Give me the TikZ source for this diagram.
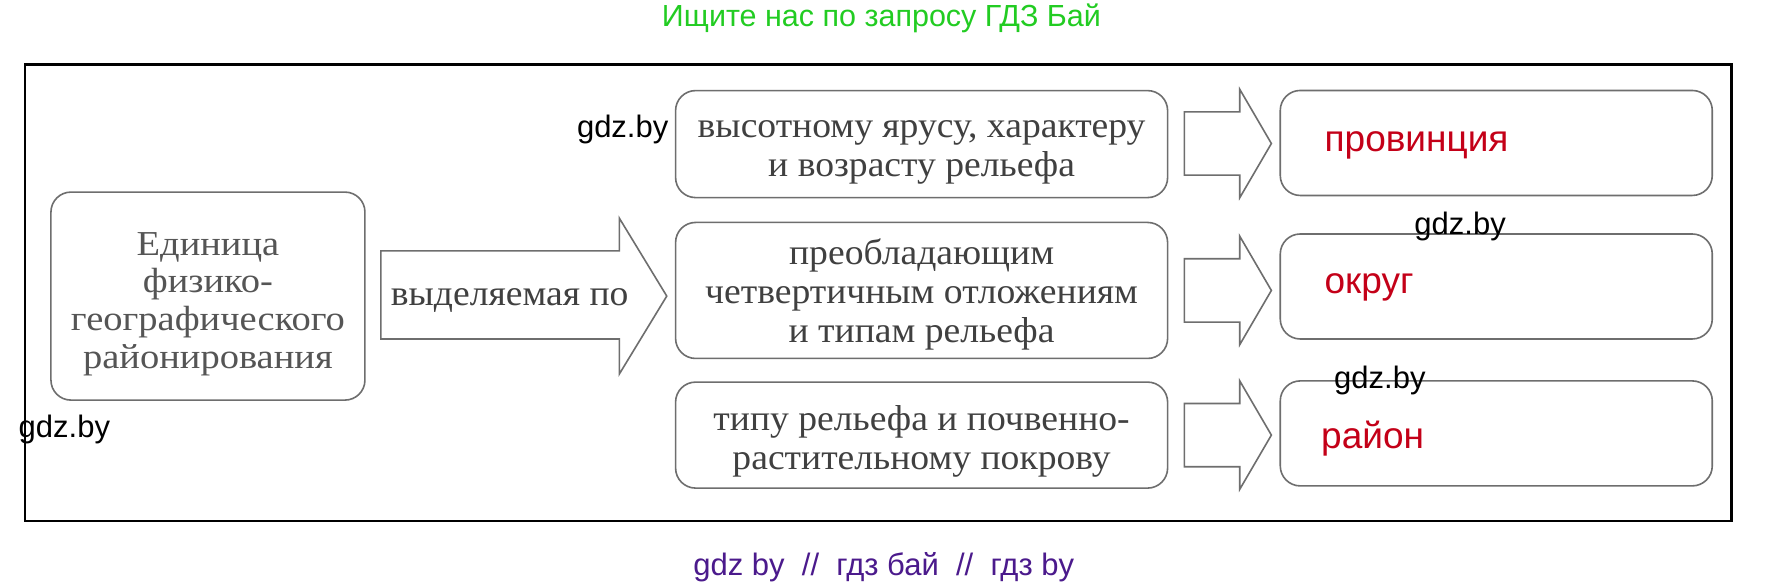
\documentclass[tikz,border=0pt]{standalone}
\usepackage{fontspec}
\setmainfont{Liberation Serif}[FakeStretch=1.045]
\newfontfamily\leftserif[FakeStretch=1.1]{Liberation Serif}
\newfontfamily\wsans{Liberation Sans}
\definecolor{boxline}{HTML}{6E6E6E}
\definecolor{boxtext}{HTML}{404040}
\definecolor{lefttext}{HTML}{555555}
\definecolor{titlegreen}{HTML}{22CC22}
\definecolor{wmpurple}{HTML}{4B1A8C}
\definecolor{answerred}{HTML}{C40018}
\tikzset{
  x=1.1301pt, y=-1.1301pt,
  roundbox/.style={draw=boxline, line width=1.6pt, rounded corners=20pt, inner sep=0pt},
  blockarrow/.style={draw=boxline, line width=1.6pt, fill=white, line join=miter},
  boxfont/.style={font=\fontsize{36}{39}\selectfont, text=boxtext, align=center, inner sep=0pt},
  answer/.style={font=\wsans\fontsize{37}{40}\selectfont, text=answerred, anchor=west},
  wmark/.style={font=\wsans\fontsize{31}{34}\selectfont, text=black},
}
\begin{document}
\begin{tikzpicture}
\useasboundingbox (0,0) rectangle (1568,519.4);
\fill[white] (0,0) rectangle (1568,519.4);
% title
\node[font=\wsans\fontsize{30.5}{34}\selectfont, text=titlegreen] (title) at (780,16) {Ищите нас по запросу ГДЗ Бай};
% frame
\draw[line width=2.6pt] (22,57) rectangle (1532,461);
% left box
\node[roundbox, minimum width=314pt, minimum height=208pt] (unit) at (184,262) {};
\node[font=\leftserif\fontsize{35}{37.7}\selectfont, text=lefttext, align=center, inner sep=0pt] (unitt) at ([yshift=-8pt]unit.center)
  {Единица\\физико-\\географического\\районирования};
% big arrow
\draw[blockarrow] (337,222) -- (548,222) -- (548,193) -- (590,262) -- (548,331) -- (548,300) -- (337,300) -- cycle;
\node[boxfont] (by) at (451,266) {выделяемая по};
% middle boxes
\node[roundbox, minimum width=492pt, minimum height=107pt] (m1) at (815.5,127.5) {};
\node[boxfont] (m1t) at ([yshift=-8pt]m1.center) {высотному ярусу, характеру\\и возрасту рельефа};
\node[roundbox, minimum width=492pt, minimum height=136pt] (m2) at (815.5,257) {};
\node[boxfont] (m2t) at ([yshift=-4pt]m2.center) {преобладающим\\четвертичным отложениям\\и типам рельефа};
\node[roundbox, minimum width=492pt, minimum height=106pt] (m3) at (815.5,385) {};
\node[boxfont] (m3t) at ([yshift=-6pt]m3.center) {типу рельефа и почвенно-\\растительному покрову};
% small arrows
\foreach \cy in {127,257,385}{
  \draw[blockarrow] (1048,\cy-28) -- (1097,\cy-28) -- (1097,\cy-48) -- (1125,\cy) -- (1097,\cy+48) -- (1097,\cy+28) -- (1048,\cy+28) -- cycle;
}
% right boxes
\node[roundbox, minimum width=432pt, minimum height=105pt] (r1) at (1324,126.5) {};
\node[roundbox, minimum width=432pt, minimum height=105pt] (r2) at (1324,253.5) {};
\node[roundbox, minimum width=432pt, minimum height=105pt] (r3) at (1324,383.5) {};
\node[answer] (a1) at (1169,129) {провинция};
\node[answer] (a2) at (1169,254) {округ};
\node[answer] (a3) at (1166,388) {район};
% watermarks
\node[wmark] (w1) at (551,115) {gdz.by};
\node[wmark] (w2) at (1292,200) {gdz.by};
\node[wmark] (w3) at (1221,337) {gdz.by};
\node[wmark] (w4) at (57,380) {gdz.by};
% bottom
\node[font=\wsans\fontsize{31}{34}\selectfont, text=wmpurple] (foot) at (782,502) {gdz by\ \ //\ \ гдз бай\ \ //\ \ гдз by};
\end{tikzpicture}
\end{document}
